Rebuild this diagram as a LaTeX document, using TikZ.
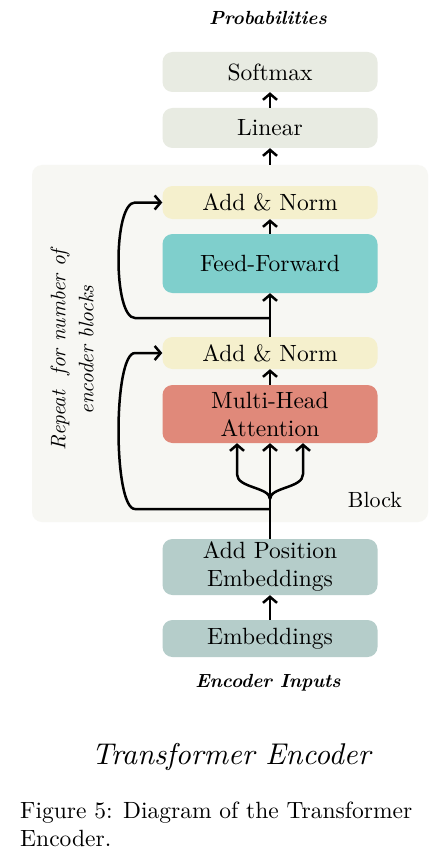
\documentclass[tikz,border=0pt]{standalone}
\usepackage{fontspec}
\setmainfont{lmroman10-regular.otf}[BoldFont=lmroman10-bold.otf, ItalicFont=lmroman10-italic.otf, BoldItalicFont=lmroman10-bolditalic.otf]
\usetikzlibrary{arrows.meta}
\definecolor{outbox}{HTML}{E8EBE2}
\definecolor{blockbg}{HTML}{F7F7F3}
\definecolor{normbox}{HTML}{F5F0CD}
\definecolor{ffbox}{HTML}{7FCFCC}
\definecolor{attbox}{HTML}{E0897A}
\definecolor{embbox}{HTML}{B5CDCA}
\tikzset{
  stagebox/.style={rounded corners=10pt, minimum width=215pt, inner sep=0pt, align=center,
    font=\fontsize{23.5}{28}\selectfont},
  arr/.style={line width=2.5pt, -{Straight Barb[length=6pt,width=14pt]}},
  labelit/.style={font=\fontsize{19}{22}\selectfont\bfseries\itshape},
}
\begin{document}
\begin{tikzpicture}[x=1pt,y=-1pt]
\fill[white] (0,0) rectangle (433,853);
\useasboundingbox (0,0) rectangle (433,853);
% block background
\node[fill=blockbg, rounded corners=10pt, minimum width=396pt, minimum height=357pt, inner sep=0pt] (blk) at (230,343.5) {};
% boxes
\node[stagebox, fill=outbox, minimum height=40pt] (softmax) at (270,72) {Softmax};
\node[stagebox, fill=outbox, minimum height=40pt] (linear) at (270,128) {Linear};
\node[stagebox, fill=normbox, minimum height=33pt] (an2) at (270,202.5) {Add \& Norm};
\node[stagebox, fill=ffbox, minimum height=59pt] (ff) at (270,263.5) {Feed-Forward};
\node[stagebox, fill=normbox, minimum height=32pt] (an1) at (270,353) {Add \& Norm};
\node[stagebox, fill=attbox, minimum height=58pt] (mha) at (270,414) {Multi-Head\\Attention};
\node[stagebox, fill=embbox, minimum height=56pt] (ape) at (270,567) {Add Position\\Embeddings};
\node[stagebox, fill=embbox, minimum height=37pt] (emb) at (270,638.5) {Embeddings};
% labels
\node[labelit] (prob) at (268,18) {Probabilities};
\node[labelit] (inputs) at (268,683) {Encoder Inputs};
\node[font=\fontsize{30}{34}\selectfont\itshape] (title) at (231,757) {Transformer Encoder};
\node[font=\fontsize{21}{28}\selectfont\itshape, rotate=90, align=center] (repeat) at (72,350) {Repeat\ \ for number of\\encoder blocks};
\node[font=\fontsize{22}{26}\selectfont] (blocklabel) at (375,500) {Block};
\node[font=\fontsize{23.5}{28}\selectfont, align=left, anchor=west, inner sep=0pt] (caption) at (20,824) {Figure 5: Diagram of the Transformer\\Encoder.};
% coordinates on the trunk
\coordinate (s1) at (270,318);
\coordinate (s2) at (270,509);
\coordinate (s3) at (270,499);
% connectors
\draw[arr] (linear.north) -- (softmax.south);
\draw[arr] (linear.south |- blk.north) -- (linear.south);
\draw[arr] (ff.north) -- (an2.south);
\draw[arr] (an1.north) -- (ff.south);
\draw[arr] (mha.north) -- (an1.south);
\draw[arr] (ape.north) -- (mha.south);
\draw[arr] (emb.north) -- (ape.south);
% residual loops
\draw[arr] (s1) -- (135,318) .. controls (113,318) and (113,202.5) .. (135,202.5) -- (an2.west);
\draw[arr] (s2) -- (135,509) .. controls (113,509) and (113,353) .. (135,353) -- (an1.west);
% attention branches
\draw[arr] (s3) .. controls +(0,-12) and +(0,14) .. ([xshift=-33pt,yshift=-31pt]mha.south) -- ([xshift=-33pt]mha.south);
\draw[arr] (s3) .. controls +(0,-12) and +(0,14) .. ([xshift=33pt,yshift=-31pt]mha.south) -- ([xshift=33pt]mha.south);
\end{tikzpicture}
\end{document}
